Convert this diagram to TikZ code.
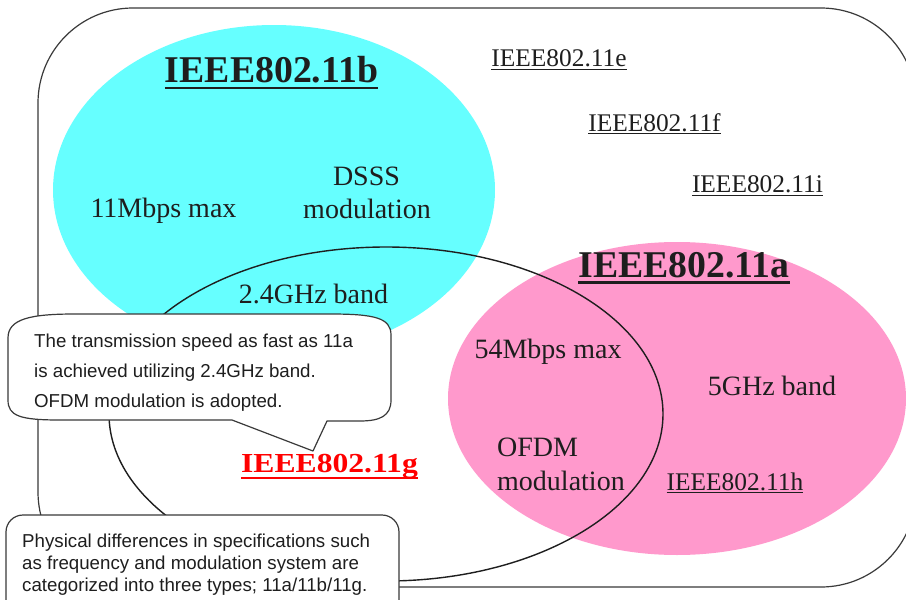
\documentclass[tikz,border=0pt]{standalone}
\usepackage{fontspec}
\usepackage{graphicx}
\setmainfont{Liberation Serif}
\newfontfamily\sansf{Liberation Sans}
\definecolor{ink}{HTML}{1E1E1E}
\definecolor{cyanfill}{HTML}{66FFFF}
\definecolor{pinkfill}{HTML}{FF99CC}
\definecolor{rimgray}{HTML}{3A3A3A}
\definecolor{ieeered}{HTML}{FF0000}
\newsavebox\ulbox
\newcommand\myul[3]{\sbox\ulbox{#3}\rlap{\rule[-#1]{\wd\ulbox}{#2}}\usebox\ulbox}
\tikzset{
  lbl/.style={inner sep=0pt, text=ink, font=\fontsize{28}{30}\selectfont},
  biglbl/.style={inner sep=0pt, text=ink, font=\bfseries\fontsize{37.8}{40}\selectfont},
  std/.style={inner sep=0pt, text=ink, font=\fontsize{25.4}{27}\selectfont},
  note/.style={inner sep=0pt, text=ink, font=\sansf\fontsize{18.7}{20}\selectfont, anchor=base west},
  rim/.style={draw=rimgray, line width=1.2pt},
  callbox/.style={draw=rimgray, line width=1.2pt, fill=white, line join=round},
  venn/.style={draw=ink, line width=1.4pt}
}
\begin{document}
\begin{tikzpicture}[x=1pt, y=-1pt]
\useasboundingbox (0,0) rectangle (906,600);
\clip (0,0) rectangle (906,600);
\fill[white] (0,0) rectangle (906,600);
% outer frame
\draw[rim, rounded corners=95pt] (38,8) rectangle (916,587);
% coloured ellipses
\fill[cyanfill] (274,190) ellipse [x radius=221pt, y radius=165pt];
\fill[pinkfill] (677,398.5) ellipse [x radius=229pt, y radius=156.5pt];
% 11g ellipse
\draw[venn] (386,414) ellipse [x radius=277pt, y radius=167pt];
% labels 11b
\node[biglbl, anchor=base] (tb) at (271.5,82) {\myul{7pt}{2.5pt}{IEEE802.11b}};
\node[lbl, anchor=base] (b11mb) at (163.5,217.5) {11Mbps max};
\node[lbl, anchor=base] (bdsss) at (366.5,185) {DSSS};
\node[lbl, anchor=base] (bmod) at (367,218) {modulation};
\node[lbl, anchor=base] (g24) at (313.5,303.5) {2.4GHz band};
% labels 11a
\node[biglbl, anchor=base] (ta) at (684,277) {\myul{6.5pt}{2.4pt}{IEEE802.11a}};
\node[lbl, anchor=base] (a54) at (548,358.5) {54Mbps max};
\node[lbl, anchor=base] (a5g) at (772,395) {5GHz band};
\node[lbl, anchor=base west] (aofdm) at (497,456.7) {OFDM};
\node[lbl, anchor=base west] (amod) at (497,490.7) {modulation};
% other standards
\node[std, anchor=base] (te) at (559,66.5) {\myul{3.3pt}{1.3pt}{IEEE802.11e}};
\node[std, anchor=base] (tf) at (654.5,131) {\myul{3.3pt}{1.3pt}{IEEE802.11f}};
\node[std, anchor=base] (ti) at (757.5,192.5) {\myul{3.3pt}{1.3pt}{IEEE802.11i}};
\node[std, anchor=base] (th) at (735,490) {\myul{3.3pt}{1.3pt}{IEEE802.11h}};
% 11g label
\node[inner sep=0pt, anchor=base, text=ieeered, font=\bfseries\fontsize{27.5}{29}\selectfont] (tg) at (329.5,472.5)
  {\scalebox{1.15}[1]{\myul{6.5pt}{2.5pt}{IEEE802.11g}}};
% callout 1
\draw[callbox] (8,338) .. controls (8,319) and (30,314) .. (75,314) -- (330,314)
  .. controls (375,314) and (391,318) .. (391,335) -- (391,400)
  .. controls (391,416) and (380,421) .. (360,421) -- (327,421) -- (313,451) -- (232,420) -- (60,420)
  .. controls (20,420) and (8,416) .. (8,400) -- cycle;
\node[note] (c1a) at (34,347) {The transmission speed as fast as 11a};
\node[note] (c1b) at (34,377) {is achieved utilizing 2.4GHz band.};
\node[note] (c1c) at (34,407) {OFDM modulation is adopted.};
% callout 2
\draw[callbox, rounded corners=17pt] (6,515) rectangle (399,630);
\node[note] (c2a) at (22,547) {Physical differences in specifications such};
\node[note] (c2b) at (22,569) {as frequency and modulation system are};
\node[note] (c2c) at (22,591) {categorized into three types; 11a/11b/11g.};
\end{tikzpicture}
\end{document}
